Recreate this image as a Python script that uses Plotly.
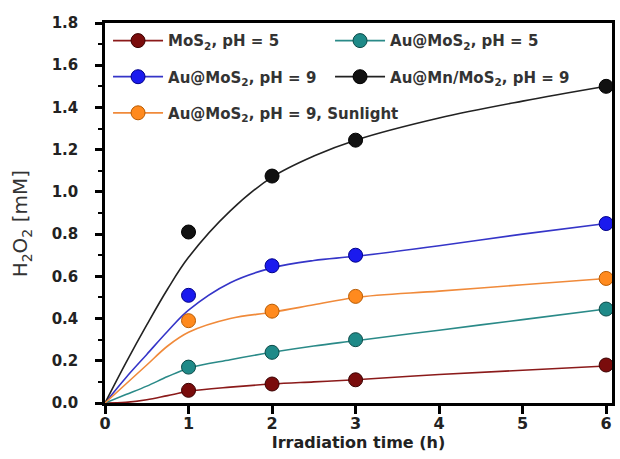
import plotly.graph_objects as go

# measured data points
time_h = [1, 2, 3, 6]
mos2_ph5 = [0.06, 0.09, 0.11, 0.18]
au_mos2_ph5 = [0.17, 0.24, 0.30, 0.445]
au_mos2_ph9 = [0.51, 0.65, 0.70, 0.85]
au_mn_mos2_ph9 = [0.81, 1.075, 1.245, 1.50]
au_mos2_ph9_sun = [0.39, 0.435, 0.505, 0.59]

# fitted curves
fit_x = [0, 0.25, 0.5, 0.75, 1, 1.5, 2, 2.5, 3, 4, 5, 6]
fit_mos2_ph5 = [0, 0.003, 0.015, 0.035, 0.055, 0.075, 0.09, 0.10, 0.11, 0.135, 0.155, 0.175]
fit_au_mos2_ph5 = [0, 0.04, 0.08, 0.125, 0.165, 0.205, 0.24, 0.27, 0.295, 0.345, 0.395, 0.445]
fit_au_mos2_ph9 = [0, 0.12, 0.23, 0.34, 0.44, 0.57, 0.64, 0.675, 0.695, 0.745, 0.80, 0.85]
fit_au_mn_mos2_ph9 = [0, 0.19, 0.37, 0.54, 0.69, 0.91, 1.07, 1.17, 1.245, 1.35, 1.43, 1.50]
fit_au_mos2_ph9_sun = [0, 0.09, 0.18, 0.27, 0.335, 0.40, 0.43, 0.465, 0.50, 0.53, 0.56, 0.59]

x_ticks = [0, 1, 2, 3, 4, 5, 6]
y_ticks = [0.0, 0.2, 0.4, 0.6, 0.8, 1.0, 1.2, 1.4, 1.6, 1.8]
y_tick_labels = ["0.0", "0.2", "0.4", "0.6", "0.8", "1.0", "1.2", "1.4", "1.6", "1.8"]

series = [
    ("MoS<sub>2</sub>, pH = 5", mos2_ph5, fit_mos2_ph5, "#7a0c0c", "#8b1a1a", "#3a0000", "legend", 157),
    ("Au@MoS<sub>2</sub>, pH = 5", au_mos2_ph5, fit_au_mos2_ph5, "#1f8a88", "#2a8a88", "#0b4a48", "legend", 210),
    ("Au@MoS<sub>2</sub>, pH = 9", au_mos2_ph9, fit_au_mos2_ph9, "#1a1aee", "#3535c8", "#00008a", "legend2", 157),
    ("Au@Mn/MoS<sub>2</sub>, pH = 9", au_mn_mos2_ph9, fit_au_mn_mos2_ph9, "#111111", "#222222", "#000000", "legend2", 210),
    ("Au@MoS<sub>2</sub>, pH = 9, Sunlight", au_mos2_ph9_sun, fit_au_mos2_ph9_sun, "#ff8a1e", "#f08a3a", "#b85a00", "legend3", 300),
]

fig = go.Figure()
for name, ys, fit, mcol, lcol, ecol, lg, lw in series:
    fig.add_trace(go.Scatter(x=fit_x, y=fit, mode="lines", line=dict(color=lcol, width=1.6, shape="spline"),
                             showlegend=False, hoverinfo="skip"))
    fig.add_trace(go.Scatter(x=time_h, y=ys, mode="markers",
                             marker=dict(size=14, color=mcol, line=dict(color=ecol, width=1)),
                             showlegend=False, cliponaxis=False))
    fig.add_trace(go.Scatter(x=[None], y=[None], mode="lines+markers", name=name,
                             line=dict(color=lcol, width=1.8),
                             marker=dict(size=14, color=mcol, line=dict(color=ecol, width=1)),
                             legend=lg, legendwidth=lw))

leg_common = dict(orientation="h", xanchor="left", yanchor="middle", x=0.006,
                  bgcolor="rgba(0,0,0,0)", itemwidth=50,
                  font=dict(family="DejaVu Sans", size=15, color="#333333", weight="bold"))

fig.update_layout(
    width=620, height=459,
    margin=dict(l=105, r=5, t=23, b=56),
    paper_bgcolor="white", plot_bgcolor="white",
    font=dict(family="DejaVu Sans", color="#222222"),
    legend=dict(y=0.953, **leg_common),
    legend2=dict(y=0.858, **leg_common),
    legend3=dict(y=0.763, **leg_common),
    xaxis=dict(range=[0, 6.07], tickvals=x_ticks, ticks="outside", ticklen=8, tickwidth=2.5,
               tickcolor="black", showline=True, linecolor="black", linewidth=2.5, mirror=True,
               showgrid=False, zeroline=False, ticklabelstandoff=-4,
               tickfont=dict(family="DejaVu Sans", size=16, color="#222222", weight="bold"),
               title=dict(text="Irradiation time (h)", standoff=2,
                          font=dict(family="DejaVu Sans", size=16, color="#222222", weight="bold"))),
    yaxis=dict(range=[0, 1.8], tickvals=y_ticks, ticktext=y_tick_labels, ticks="outside", ticklen=7,
               tickwidth=2.5, tickcolor="black", showline=True, linecolor="black", linewidth=2.5,
               mirror=True, showgrid=False, zeroline=False, ticklabelstandoff=14,
               minor=dict(dtick=0.1, ticks="outside", ticklen=4, tickwidth=2, tickcolor="black"),
               tickfont=dict(family="DejaVu Sans", size=15, color="#222222", weight="bold")),
    annotations=[dict(text="H<sub>2</sub>O<sub>2</sub> [mM]", xref="paper", yref="paper",
                      x=-0.165, y=0.471, xanchor="center", yanchor="middle", textangle=-90,
                      showarrow=False,
                      font=dict(family="DejaVu Sans", size=20, color="#333333"))],
)

fig.write_html("out.html")
